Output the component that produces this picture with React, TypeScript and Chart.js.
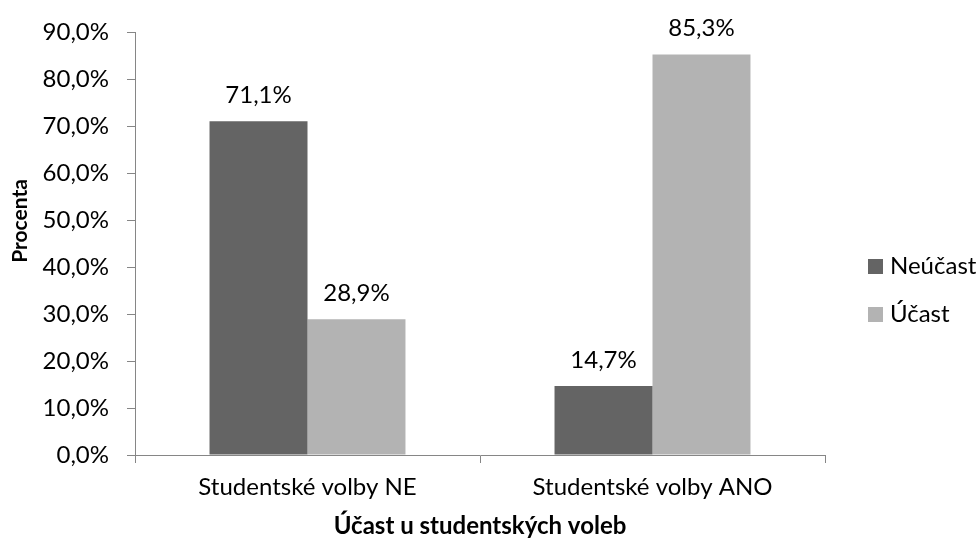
import React, { useEffect, useRef } from "react";
import { Chart, registerables } from "chart.js";

Chart.register(...registerables);

const categories = ["Studentské volby NE", "Studentské volby ANO"];
const seriesNames = ["Neúčast", "Účast"];
const neucast = [71.1, 14.7];
const ucast = [28.9, 85.3];
const colors = ["#646464", "#b3b3b3"];
const yTitle = "Procenta";
const xTitle = "Účast u studentských voleb";

const FONT = "Lato, 'Open Sans', sans-serif";
const FS = 24;
const fmt = (v: number) => v.toFixed(1).replace(".", ",") + "%";

const labelsPlugin = {
  id: "valueLabels",
  afterDatasetsDraw(chart: any) {
    const ctx = chart.ctx;
    ctx.save();
    ctx.font = `${FS}px ${FONT}`;
    ctx.fillStyle = "#000";
    ctx.textAlign = "center";
    ctx.textBaseline = "middle";
    chart.data.datasets.forEach((ds: any, i: number) => {
      const meta = chart.getDatasetMeta(i);
      meta.data.forEach((el: any, j: number) => {
        ctx.fillText(fmt(ds.data[j]), el.x, el.y - 26);
      });
    });
    ctx.restore();
  },
};

const legendPlugin = {
  id: "customLegend",
  afterDraw(chart: any) {
    const ctx = chart.ctx;
    ctx.save();
    ctx.font = `${FS}px ${FONT}`;
    ctx.textAlign = "left";
    ctx.textBaseline = "middle";
    const x = 868;
    const ys = [266, 314];
    chart.data.datasets.forEach((ds: any, i: number) => {
      ctx.fillStyle = ds.backgroundColor;
      ctx.fillRect(x, ys[i] - 7, 15, 15);
      ctx.fillStyle = "#000";
      ctx.fillText(ds.label, x + 22, ys[i]);
    });
    // y axis title
    ctx.font = `bold 21px ${FONT}`;
    ctx.textAlign = "center";
    ctx.translate(20, 221);
    ctx.rotate(-Math.PI / 2);
    ctx.fillText(yTitle, 0, 0);
    ctx.restore();
  },
};

export default function App() {
  const ref = useRef<HTMLCanvasElement>(null);
  useEffect(() => {
    if (!ref.current) return;
    const chart = new Chart(ref.current, {
      type: "bar",
      data: {
        labels: categories,
        datasets: [
          { label: seriesNames[0], data: neucast, backgroundColor: colors[0] },
          { label: seriesNames[1], data: ucast, backgroundColor: colors[1] },
        ],
      },
      options: {
        animation: false,
        responsive: false,
        maintainAspectRatio: false,
        layout: { padding: { top: 32, right: 154, left: 0, bottom: 0 } },
        plugins: { legend: { display: false }, tooltip: { enabled: false } },
        datasets: { bar: { categoryPercentage: 0.568, barPercentage: 1 } },
        scales: {
          x: {
            grid: {
              offset: true,
              drawOnChartArea: false,
              drawTicks: true,
              tickLength: 8,
              color: "#868686",
            },
            border: { color: "#868686", width: 1 },
            ticks: { color: "#000", font: { family: FONT, size: FS }, padding: 10 },
            title: {
              display: true,
              text: xTitle,
              color: "#000",
              font: { family: FONT, size: FS, weight: "bold" },
              padding: { top: 2, bottom: 0 },
            },
            afterFit(scale: any) {
              scale.height = 86;
            },
          },
          y: {
            min: 0,
            max: 90,
            ticks: {
              stepSize: 10,
              color: "#000",
              font: { family: FONT, size: FS },
              padding: 18,
              callback: (v: any) => fmt(Number(v)),
            },
            grid: {
              drawOnChartArea: false,
              drawTicks: true,
              tickLength: 8,
              color: "#868686",
            },
            border: { color: "#868686", width: 1 },
            afterFit(scale: any) {
              scale.width = 135;
            },
          },
        },
      },
      plugins: [labelsPlugin, legendPlugin],
    });
    return () => chart.destroy();
  }, []);
  return (
    <div style={{ position: "fixed", left: 0, top: 0, width: 979, height: 541, background: "#fff" }}>
      <canvas ref={ref} width={979} height={541} style={{ width: 979, height: 541 }} />
    </div>
  );
}
